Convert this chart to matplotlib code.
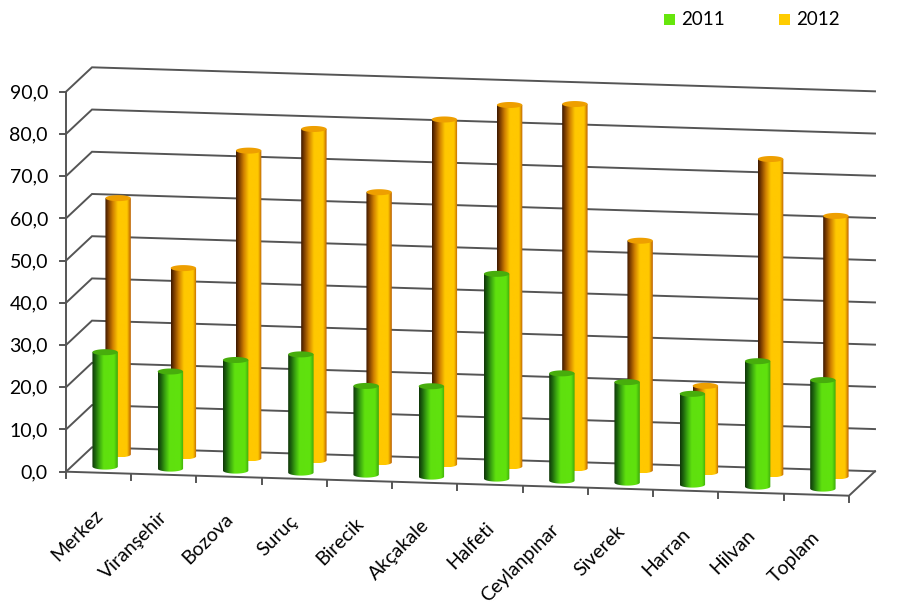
#!/usr/bin/env python3
"""Clustered 3D cylinder chart, 2011 vs 2012 by district."""

import numpy as np
import matplotlib

matplotlib.use("Agg")
import matplotlib.pyplot as plt
from matplotlib.colors import LinearSegmentedColormap
from matplotlib.patches import PathPatch, Polygon, Rectangle
from matplotlib.path import Path

categories = ["Merkez", "Viranşehir", "Bozova", "Suruç", "Birecik", "Akçakale",
              "Halfeti", "Ceylanpınar", "Siverek", "Harran", "Hilvan", "Toplam"]
values_2011 = [27.1, 23.0, 26.2, 28.0, 21.0, 21.4, 48.5, 25.4, 23.8, 21.5, 29.7, 25.7]
values_2012 = [60.7, 44.6, 72.9, 78.5, 64.0, 81.7, 85.6, 86.3, 54.4, 20.5, 74.7, 61.7]
y_ticks = [0, 10, 20, 30, 40, 50, 60, 70, 80, 90]

plt.rcParams["font.family"] = ["Lato", "DejaVu Sans"]

LINE = "#555555"
LW = 1.4
CYL_W = 25.4
CYL_RY = 3.0

# oblique projection of the 3D box, in figure pixels
ORIGIN = np.array([66.0, 471.7])
X_STEP = np.array([783.0, 24.0]) / len(categories)
Y_STEP = np.array([0.0, -4.222])
Z_STEP = np.array([26.0, -24.4])


def proj(cat, val, depth):
    return ORIGIN + cat * X_STEP + val * Y_STEP + depth * Z_STEP


green_cmap = LinearSegmentedColormap.from_list(
    "green",
    [(0, "#103409"), (0.12, "#1c620d"), (0.3, "#3fae10"), (0.45, "#5fe00e"),
     (0.85, "#60e20e"), (1, "#3aa60c")],
)
orange_cmap = LinearSegmentedColormap.from_list(
    "orange",
    [(0, "#3a1800"), (0.12, "#7a3c00"), (0.3, "#d08000"), (0.5, "#ffc800"),
     (0.85, "#ffc800"), (1, "#b85a02")],
)


def cylinder(ax, cat, val, depth, cmap, top_color, zorder):
    cx, y_base = proj(cat + 0.5, 0, depth)
    _, y_top = proj(cat + 0.5, val, depth)
    left, right = cx - CYL_W / 2, cx + CYL_W / 2

    # body outline: straight sides and the lower half of the base ellipse
    theta = np.linspace(0, np.pi, 40)
    arc = np.column_stack([cx + CYL_W / 2 * np.cos(theta), y_base + CYL_RY * np.sin(theta)])
    verts = np.vstack([[[right, y_top]], arc, [[left, y_top]], [[right, y_top]]])
    clip = PathPatch(Path(verts), transform=ax.transData, fc="none", ec="none")
    ax.add_patch(clip)

    im = ax.imshow(np.linspace(0, 1, 256)[None, :], cmap=cmap, aspect="auto",
                   extent=(left, right, y_base + CYL_RY, y_top),
                   interpolation="bilinear", zorder=zorder)
    im.set_clip_path(clip)

    theta = np.linspace(0, 2 * np.pi, 60)
    top = np.column_stack([cx + CYL_W / 2 * np.cos(theta), y_top + CYL_RY * np.sin(theta)])
    ax.add_patch(Polygon(top, closed=True, fc=top_color, ec="none", zorder=zorder + 0.1))


fig = plt.figure(figsize=(9.03, 6.10), dpi=100)
ax = fig.add_axes([0, 0, 1, 1])

n = len(categories)

# walls
for v in y_ticks:
    pts = np.array([proj(0, v, 0), proj(0, v, 1), proj(n, v, 1)])
    ax.plot(pts[:, 0], pts[:, 1], color=LINE, lw=LW, zorder=1, solid_joinstyle="miter")
    x0, y0 = proj(0, v, 0)
    ax.plot([x0 - 6, x0], [y0, y0], color=LINE, lw=LW, zorder=1)
    ax.text(x0 - 18, y0 + 1, f"{v:.1f}".replace(".", ","), ha="right", va="center",
            fontsize=14, color="black")

# floor and axes
floor = np.array([proj(0, 0, 0), proj(n, 0, 0), proj(n, 0, 1)])
ax.plot(floor[:, 0], floor[:, 1], color=LINE, lw=LW, zorder=1)
left_edge = np.array([proj(0, 0, 0), proj(0, y_ticks[-1], 0)])
ax.plot(left_edge[:, 0], left_edge[:, 1], color=LINE, lw=LW, zorder=1)
for i in range(n + 1):
    x0, y0 = proj(i, 0, 0)
    ax.plot([x0, x0], [y0, y0 + 6], color=LINE, lw=LW, zorder=1)

# cylinders, back row first
for i, v in enumerate(values_2012):
    cylinder(ax, i, v, 0.75, orange_cmap, "#ee9f00", 2 + i * 0.01)
for i, v in enumerate(values_2011):
    cylinder(ax, i, v, 0.25, green_cmap, "#47ad0c", 3 + i * 0.01)

# category labels
for i, name in enumerate(categories):
    x0, y0 = proj(i + 0.5, 0, 0)
    ax.text(x0 + 1, y0 + 40, name, rotation=45, rotation_mode="anchor",
            ha="right", va="center", fontsize=14, color="black")

# legend
ax.add_patch(Rectangle((664, 14), 11, 11, fc="#66e60c", ec="none"))
ax.text(681, 19.5, "2011", va="center", ha="left", fontsize=13.5, color="black")
ax.add_patch(Rectangle((779, 14), 11, 11, fc="#ffcc00", ec="none"))
ax.text(796, 19.5, "2012", va="center", ha="left", fontsize=13.5, color="black")

ax.set_xlim(0, 903)
ax.set_ylim(610, 0)
ax.axis("off")

fig.savefig("out.png", dpi=100)
plt.close(fig)
